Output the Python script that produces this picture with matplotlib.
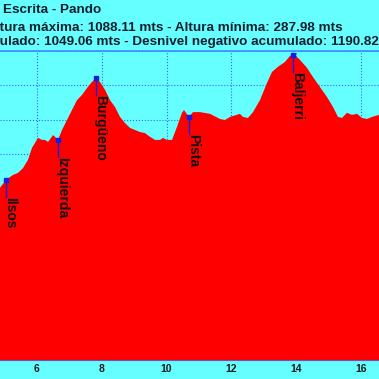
"""
Perfil de altura de la ruta (recorte central del grafico)
"""
import matplotlib
matplotlib.use('Agg')
import matplotlib.pyplot as plt
import numpy as np

plt.rcParams['font.family'] = ['Liberation Sans', 'DejaVu Sans']

# distancia (km) y altura (m) del perfil
km = [4.70, 4.858, 5.043, 5.167, 5.259, 5.414, 5.568, 5.722, 5.846, 5.938, 6.031,
      6.154, 6.247, 6.340, 6.494, 6.556, 6.648, 6.772, 6.926, 7.080, 7.235,
      7.389, 7.543, 7.698, 7.821, 7.944, 8.099, 8.253, 8.407, 8.562, 8.716,
      8.870, 9.025, 9.179, 9.333, 9.488, 9.642, 9.796, 9.889, 10.012, 10.167,
      10.321, 10.475, 10.537, 10.691, 10.815, 11.031, 11.340, 11.648, 11.802,
      11.957, 12.265, 12.358, 12.512, 12.667, 12.883, 13.099, 13.253, 13.438,
      13.654, 13.809, 13.901, 14.056, 14.117, 14.333, 14.519, 14.735, 14.951,
      15.136, 15.290, 15.414, 15.568, 15.722, 15.877, 16.031, 16.185, 16.340,
      16.556, 16.70]
altura = [695, 702, 724, 733, 739, 745, 759, 783, 818, 832, 847,
          841, 841, 835, 855, 850, 841, 870, 899, 928, 957,
          972, 992, 1010, 1021, 1010, 987, 957, 937, 908, 890,
          876, 870, 864, 861, 850, 841, 841, 847, 841, 841,
          879, 920, 928, 908, 922, 922, 917, 902, 899,
          908, 917, 908, 905, 922, 957, 1007, 1039, 1054,
          1068, 1086, 1088, 1080, 1074, 1051, 1024, 995, 966,
          937, 908, 905, 920, 914, 917, 905, 902, 908,
          914, 915]

# puntos de paso
wp_nombres = ['Ilsos', 'Izquierda', 'Burgüeno', 'Pista', 'Baljerri']
wp_km = [5.043, 6.648, 7.821, 10.691, 13.901]

titulo = [
    ('Peña Escrita - Pando', 'Peña ', 3, 366),
    ('Altura máxima: 1088.11 mts - Altura mínima: 287.98 mts', 'Al', 0, 348),
    ('Desnivel positivo acumulado: 1049.06 mts - Desnivel negativo acumulado: 1190.82 mts',
     'Desnivel positivo acum', 0, 334.5),
]

fondo = '#66ffff'
W = H = 379
fig = plt.figure(figsize=(W / 100, H / 100), dpi=100, facecolor=fondo)
ax = fig.add_axes([0, 19 / H, 1, 309 / H])
ax.set_facecolor(fondo)

ax.fill_between(km, 200, altura, color='#ff0000', lw=0, zorder=2)

ax.set_xlim(4.858, 16.556)
ax.set_ylim(200, 1100)
ax.set_xticks([6, 8, 10, 12, 14, 16])
ax.set_yticks(np.arange(200, 1101, 100))
ax.set_yticklabels([])
ax.grid(True, color='#2a3cff', ls=':', lw=0.8, alpha=0.8, zorder=3)
ax.tick_params(axis='x', length=0, pad=3, labelsize=7.5, labelcolor='#1a1a1a')
for lab in ax.get_xticklabels():
    lab.set_fontweight('bold')
ax.tick_params(axis='y', length=0)
for s in ['left', 'right']:
    ax.spines[s].set_visible(False)
ax.spines['top'].set_color('#3c8cff')
ax.spines['top'].set_linewidth(1.2)
ax.spines['bottom'].set_color('#6a50c8')
ax.spines['bottom'].set_linewidth(0.8)

# marcas de los puntos de paso
wp_alt = np.interp(wp_km, km, altura)
for nombre, x, y in zip(wp_nombres, wp_km, wp_alt):
    ax.plot([x, x], [y, y - 50], color='#1020e0', lw=1, zorder=4)
    ax.plot(x, y, 's', color='#1020e0', ms=2.5, zorder=5)
    ax.annotate(nombre, (x, y), xytext=(-2, -12), textcoords='offset points',
                rotation=270, ha='left', va='top', fontsize=10,
                fontweight='bold', color='#111111', zorder=6)

# titulo de tres lineas, recortado por los lados
renderer = fig.canvas.get_renderer()
for texto, oculto, x_px, y_px in titulo:
    t = fig.text(0, 0, oculto, fontsize=9.7, fontweight='bold')
    w = t.get_window_extent(renderer).width
    t.remove()
    fig.text((x_px - w) / W, y_px / H, texto, fontsize=9.7, fontweight='bold',
             color='#102030', ha='left', va='baseline')

fig.savefig('out.png', dpi=100, facecolor=fondo)
